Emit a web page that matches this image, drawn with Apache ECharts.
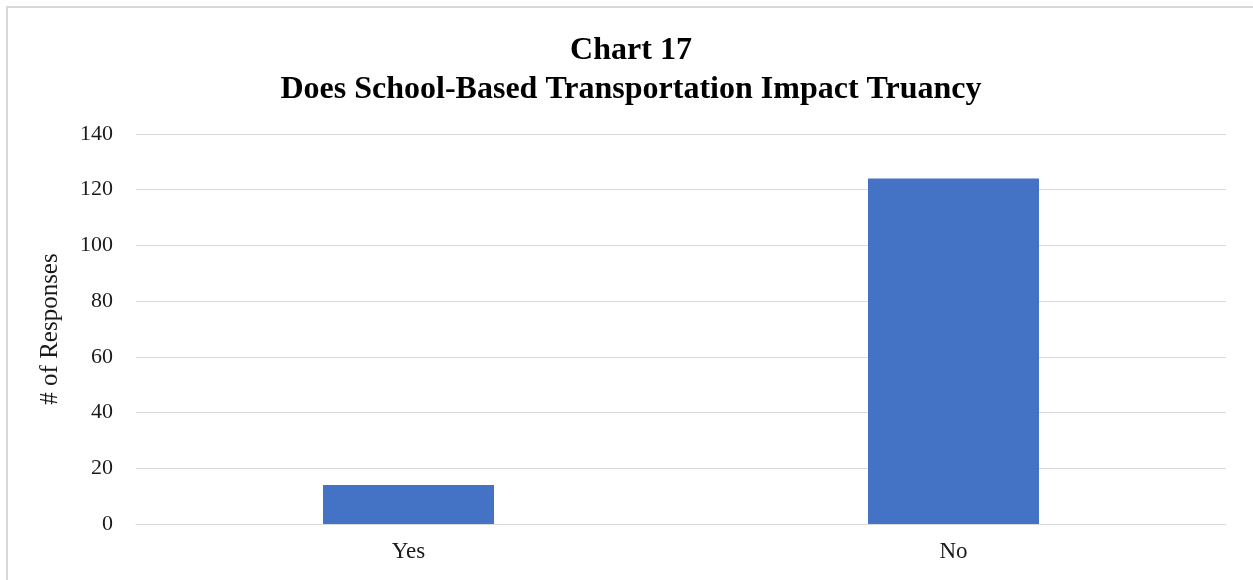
<!DOCTYPE html>
<html>
<head>
<meta charset="utf-8">
<script src="https://cdn.jsdelivr.net/npm/echarts@6/dist/echarts.min.js"></script>
<style>
  html, body { margin: 0; padding: 0; background: #fff; }
  #chart { width: 1253px; height: 580px; }
</style>
</head>
<body>
<div id="chart"></div>
<script>
// Survey responses: does school-based transportation impact truancy?
const categories = ['Yes', 'No'];
const responses = [14, 124];
const yTicks = { min: 0, max: 140, interval: 20 };
const titleLines = ['Chart 17', 'Does School-Based Transportation Impact Truancy'];
const yAxisTitle = '# of Responses';

const serif = '"Liberation Serif", "Times New Roman", serif';
const chart = echarts.init(document.getElementById('chart'), null, { renderer: 'canvas' });

chart.setOption({
  animation: false,
  backgroundColor: '#ffffff',
  title: {
    text: titleLines.join('\n'),
    left: 626,
    top: 26,
    textAlign: 'center',
    textStyle: {
      fontFamily: serif,
      fontWeight: 'bold',
      fontSize: 32,
      lineHeight: 39,
      color: '#000'
    }
  },
  graphic: [{
    type: 'rect',
    silent: true,
    shape: { x: 7, y: 7, width: 1270, height: 600 },
    style: { fill: 'none', stroke: '#d9d9d9', lineWidth: 2 }
  }],
  grid: { left: 136, right: 27, top: 134, bottom: 56 },
  xAxis: {
    type: 'category',
    data: categories,
    axisTick: { show: false },
    axisLine: { show: true, lineStyle: { color: '#d9d9d9', width: 1 } },
    axisLabel: { fontFamily: serif, fontSize: 23, color: '#1a1a1a', margin: 16 }
  },
  yAxis: {
    type: 'value',
    min: yTicks.min,
    max: yTicks.max,
    interval: yTicks.interval,
    name: yAxisTitle,
    nameLocation: 'middle',
    nameGap: 73,
    nameTextStyle: { fontFamily: serif, fontSize: 25, color: '#1a1a1a' },
    axisLine: { show: false },
    axisTick: { show: false },
    axisLabel: { fontFamily: serif, fontSize: 22, color: '#1a1a1a', margin: 23 },
    splitLine: { lineStyle: { color: '#d9d9d9', width: 1 } }
  },
  series: [{
    type: 'bar',
    data: responses,
    barWidth: 171,
    itemStyle: { color: '#4472c4' }
  }]
});
</script>
</body>
</html>
